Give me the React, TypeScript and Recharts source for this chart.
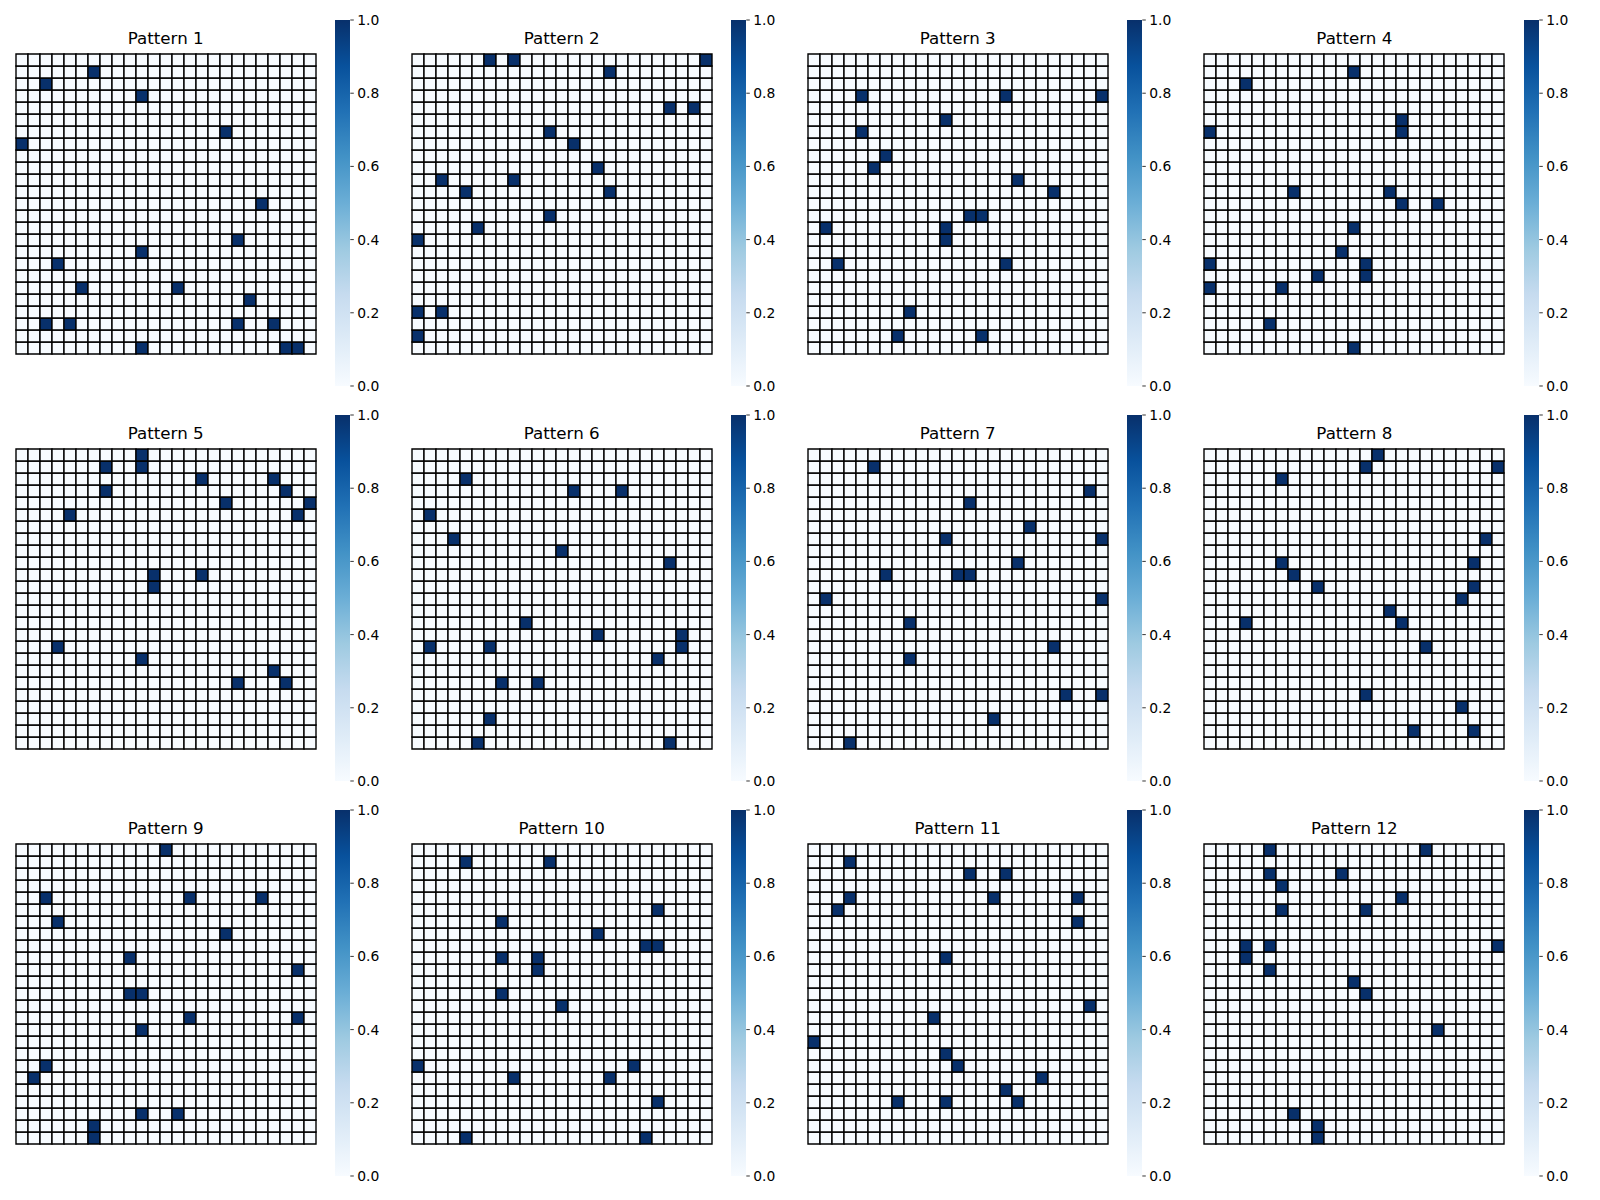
import React from 'react';
import { BarChart, Bar, XAxis, YAxis, Cell } from 'recharts';

// filled cells per pattern, as [row, col] (row 0 = top)
const pattern1: [number, number][] = [
  [1, 6], [2, 2], [3, 10], [6, 17], [7, 0], [12, 20], [15, 18], [16, 10], [17, 3], [19, 5],
  [19, 13], [20, 19], [22, 2], [22, 4], [22, 18], [22, 21], [24, 10], [24, 22], [24, 23],
];
const pattern2: [number, number][] = [
  [0, 6], [0, 8], [0, 24], [1, 16], [4, 21], [4, 23], [6, 11], [7, 13], [9, 15], [10, 2],
  [10, 8], [11, 4], [11, 16], [13, 11], [14, 5], [15, 0], [21, 0], [21, 2], [23, 0],
];
const pattern3: [number, number][] = [
  [3, 4], [3, 16], [3, 24], [5, 11], [6, 4], [8, 6], [9, 5], [10, 17], [11, 20], [13, 13],
  [13, 14], [14, 1], [14, 11], [15, 11], [17, 2], [17, 16], [21, 8], [23, 7], [23, 14],
];
const pattern4: [number, number][] = [
  [1, 12], [2, 3], [5, 16], [6, 0], [6, 16], [11, 7], [11, 15], [12, 16], [12, 19], [14, 12],
  [16, 11], [17, 0], [17, 13], [18, 9], [18, 13], [19, 0], [19, 6], [22, 5], [24, 12],
];
const pattern5: [number, number][] = [
  [0, 10], [1, 7], [1, 10], [2, 15], [2, 21], [3, 7], [3, 22], [4, 17], [4, 24], [5, 4],
  [5, 23], [10, 11], [10, 15], [11, 11], [16, 3], [17, 10], [18, 21], [19, 18], [19, 22],
];
const pattern6: [number, number][] = [
  [2, 4], [3, 13], [3, 17], [5, 1], [7, 3], [8, 12], [9, 21], [14, 9], [15, 15], [15, 22],
  [16, 1], [16, 6], [16, 22], [17, 20], [19, 7], [19, 10], [22, 6], [24, 5], [24, 21],
];
const pattern7: [number, number][] = [
  [1, 5], [3, 23], [4, 13], [6, 18], [7, 11], [7, 24], [9, 17], [10, 6], [10, 12], [10, 13],
  [12, 1], [12, 24], [14, 8], [16, 20], [17, 8], [20, 21], [20, 24], [22, 15], [24, 3],
];
const pattern8: [number, number][] = [
  [0, 14], [1, 13], [1, 24], [2, 6], [7, 23], [9, 6], [9, 22], [10, 7], [11, 9], [11, 22],
  [12, 21], [13, 15], [14, 16], [14, 3], [16, 18], [20, 13], [21, 21], [23, 17], [23, 22],
];
const pattern9: [number, number][] = [
  [0, 12], [4, 2], [4, 14], [4, 20], [6, 3], [7, 17], [9, 9], [10, 23], [12, 9], [12, 10],
  [14, 14], [14, 23], [15, 10], [18, 2], [19, 1], [22, 10], [22, 13], [23, 6], [24, 6],
];
const pattern10: [number, number][] = [
  [1, 4], [1, 11], [5, 20], [6, 7], [7, 15], [8, 19], [8, 20], [9, 7], [9, 10], [10, 10],
  [12, 7], [13, 12], [18, 0], [18, 18], [19, 8], [19, 16], [21, 20], [24, 4], [24, 19],
];
const pattern11: [number, number][] = [
  [1, 3], [2, 13], [2, 16], [4, 3], [4, 15], [4, 22], [5, 2], [6, 22], [9, 11], [13, 23],
  [14, 10], [16, 0], [17, 11], [18, 12], [19, 19], [20, 16], [21, 7], [21, 11], [21, 17],
];
const pattern12: [number, number][] = [
  [0, 5], [0, 18], [2, 5], [2, 11], [3, 6], [4, 16], [5, 6], [5, 13], [8, 3], [8, 5],
  [8, 24], [9, 3], [10, 5], [11, 12], [12, 13], [15, 19], [22, 7], [23, 9], [24, 9],
];

const patterns = [
  pattern1, pattern2, pattern3, pattern4, pattern5, pattern6,
  pattern7, pattern8, pattern9, pattern10, pattern11, pattern12,
];
const titles = patterns.map((_, i) => `Pattern ${i + 1}`);
const gridSize = 25;
const colorbarTicks = [0, 0.2, 0.4, 0.6, 0.8, 1.0];

// Blues colormap stops
const blues = [
  '#f7fbff', '#deebf7', '#c6dbef', '#9ecae1', '#6baed6',
  '#4292c6', '#2171b5', '#08519c', '#08306b',
];

const FONT = '"DejaVu Sans", sans-serif';
const heatLefts = [15.7, 411.7, 807.7, 1204.3];
const heatTops = [53.7, 448.7, 843.7];

const rowIds = Array.from({ length: gridSize }, (_, r) => r);

const Heatmap = ({ cells }: { cells: [number, number][] }) => {
  const filled = new Set(cells.map(([r, c]) => `${r}-${c}`));
  // one entry per column, each row stacked as a unit-height segment
  const data = rowIds.map((c) => {
    const d: Record<string, number | string> = { col: String(c) };
    rowIds.forEach((r) => (d[`r${r}`] = 1));
    return d;
  });
  // bottom row is drawn first so row 0 ends up on top
  const stackOrder = [...rowIds].reverse();

  return (
    <BarChart
      width={302}
      height={302}
      data={data}
      margin={{ top: 1, right: 1, bottom: 1, left: 1 }}
      barCategoryGap={0}
      barGap={0}
    >
      <XAxis dataKey="col" type="category" hide />
      <YAxis type="number" domain={[0, gridSize]} hide />
      {stackOrder.map((r) => (
        <Bar key={r} dataKey={`r${r}`} stackId="grid" isAnimationActive={false} stroke="#000" strokeWidth={1.4}>
          {data.map((_, c) => (
            <Cell key={c} fill={filled.has(`${r}-${c}`) ? blues[8] : blues[0]} />
          ))}
        </Bar>
      ))}
    </BarChart>
  );
};

const Colorbar = ({ id }: { id: string }) => (
  <BarChart
    width={15.3 + 45}
    height={386}
    data={[{ k: 'cb', v: 1 }]}
    margin={{ top: 10, right: 0, bottom: 10, left: 0 }}
    barCategoryGap={0}
  >
    <defs>
      <linearGradient id={id} x1="0" y1="1" x2="0" y2="0">
        {blues.map((c, i) => (
          <stop key={i} offset={`${(i / (blues.length - 1)) * 100}%`} stopColor={c} />
        ))}
      </linearGradient>
    </defs>
    <XAxis dataKey="k" hide />
    <YAxis
      orientation="right"
      type="number"
      domain={[0, 1]}
      ticks={colorbarTicks}
      tickFormatter={(v: number) => v.toFixed(1)}
      width={45}
      axisLine={false}
      tickSize={3.5}
      tickMargin={3.5}
      tickLine={{ stroke: '#000', strokeWidth: 0.8 }}
      tick={{ fill: '#000', fontSize: 13.9, fontFamily: FONT }}
    />
    <Bar dataKey="v" fill={`url(#${id})`} isAnimationActive={false} />
  </BarChart>
);

export default function App() {
  return (
    <div
      style={{
        position: 'absolute',
        left: 0,
        top: 0,
        width: 1600,
        height: 1200,
        background: '#fff',
        fontFamily: FONT,
      }}
    >
      {patterns.map((cells, i) => {
        const left = heatLefts[i % 4];
        const top = heatTops[Math.floor(i / 4)];
        return (
          <React.Fragment key={i}>
            <div
              style={{
                position: 'absolute',
                left,
                top: top - 26,
                width: 300,
                textAlign: 'center',
                fontSize: 16.7,
                lineHeight: '20px',
                color: '#000',
              }}
            >
              {titles[i]}
            </div>
            <div style={{ position: 'absolute', left: left - 1, top: top - 1 }}>
              <Heatmap cells={cells} />
            </div>
            <div style={{ position: 'absolute', left: left + 319.2, top: top - 33.3 - 10 }}>
              <Colorbar id={`cbgrad${i}`} />
            </div>
          </React.Fragment>
        );
      })}
    </div>
  );
}
